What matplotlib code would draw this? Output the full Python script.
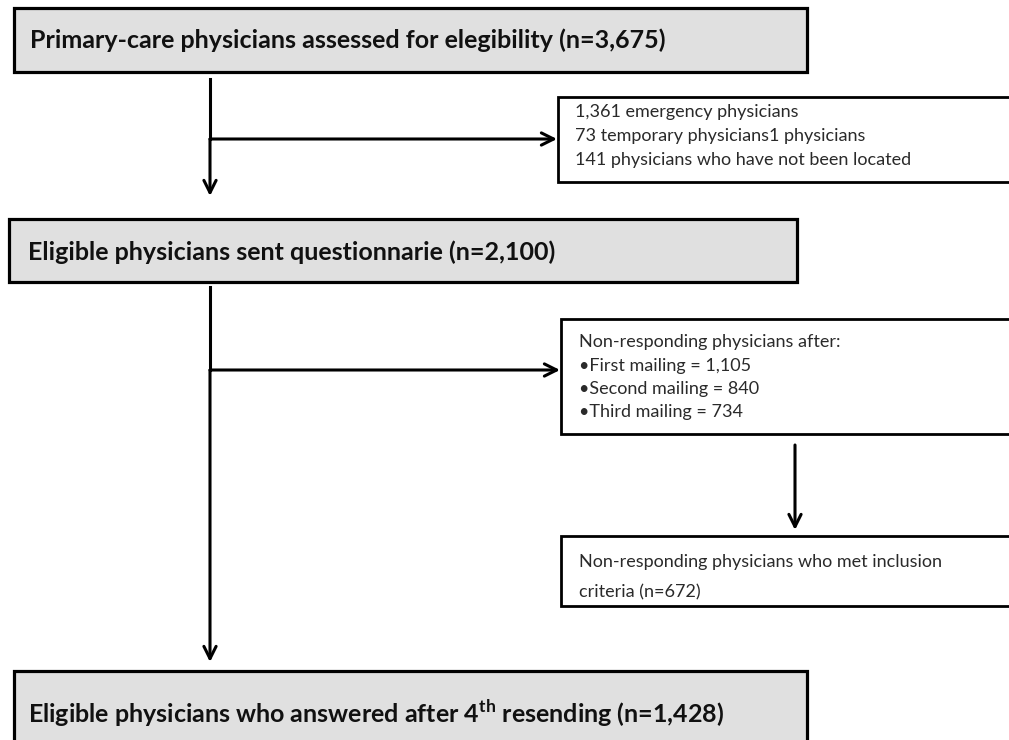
import matplotlib.pyplot as plt
from matplotlib.patches import Rectangle

# main boxes (bold, grey) and side boxes (plain, white)
main_texts = [
    "Primary-care physicians assessed for elegibility (n=3,675)",
    "Eligible physicians sent questionnarie (n=2,100)",
    "Eligible physicians who answered after 4$^{\\mathregular{th}}$ resending (n=1,428)",
]
side1_lines = [
    "1,361 emergency physicians",
    "73 temporary physicians1 physicians",
    "141 physicians who have not been located",
]
side2_lines = [
    "Non-responding physicians after:",
    "\u2022First mailing = 1,105",
    "\u2022Second mailing = 840",
    "\u2022Third mailing = 734",
]
side3_lines = [
    "Non-responding physicians who met inclusion",
    "criteria (n=672)",
]

W, H = 1009, 740
fig = plt.figure(figsize=(W / 100, H / 100), dpi=100)
ax = fig.add_axes([0, 0, 1, 1])
ax.set_xlim(0, W)
ax.set_ylim(H, 0)
ax.axis("off")

grey = "#e0e0e0"

def box(x0, y0, x1, y1, fill, lw=2.3):
    ax.add_patch(Rectangle((x0, y0), x1 - x0, y1 - y0, facecolor=fill,
                           edgecolor="black", linewidth=lw, zorder=2))

def arrow(x0, y0, x1, y1):
    ax.annotate("", xy=(x1, y1), xytext=(x0, y0),
                arrowprops=dict(arrowstyle="->", color="black", lw=2.2,
                                mutation_scale=22, shrinkA=0, shrinkB=0))

def main_label(x, y, s):
    ax.text(x, y, s, fontsize=18, fontweight="bold", family="Lato",
            va="center", ha="left", color="#111111", zorder=3)

def side_lines(x, y0, step, lines):
    for i, line in enumerate(lines):
        ax.text(x, y0 + i * step, line, fontsize=13, family="Lato",
                va="center", ha="left", color="#2a2a2a", zorder=3)

# main boxes
box(14, 8, 807, 72, grey)
box(9, 219, 797, 282, grey)
box(14, 671, 807, 760, grey)

main_label(30, 40, main_texts[0])
main_label(28, 252, main_texts[1])
main_label(28, 713, main_texts[2])

# side boxes
box(558, 97, 1015, 182, "white", lw=2.0)
box(561, 319, 1015, 434, "white", lw=2.0)
box(561, 536, 1015, 606, "white", lw=2.0)

side_lines(575, 112, 24, side1_lines)
side_lines(579, 342, 23.5, side2_lines)
side_lines(579, 562, 30, side3_lines)

# connectors
ax.plot([210, 210], [79, 139], color="black", lw=2.2)
arrow(210, 139, 210, 196)
arrow(210, 139, 557, 139)

ax.plot([210, 210], [287, 370], color="black", lw=2.2)
arrow(210, 370, 210, 662)
arrow(210, 370, 560, 370)

arrow(795, 445, 795, 530)

fig.savefig("out.png", dpi=100)
